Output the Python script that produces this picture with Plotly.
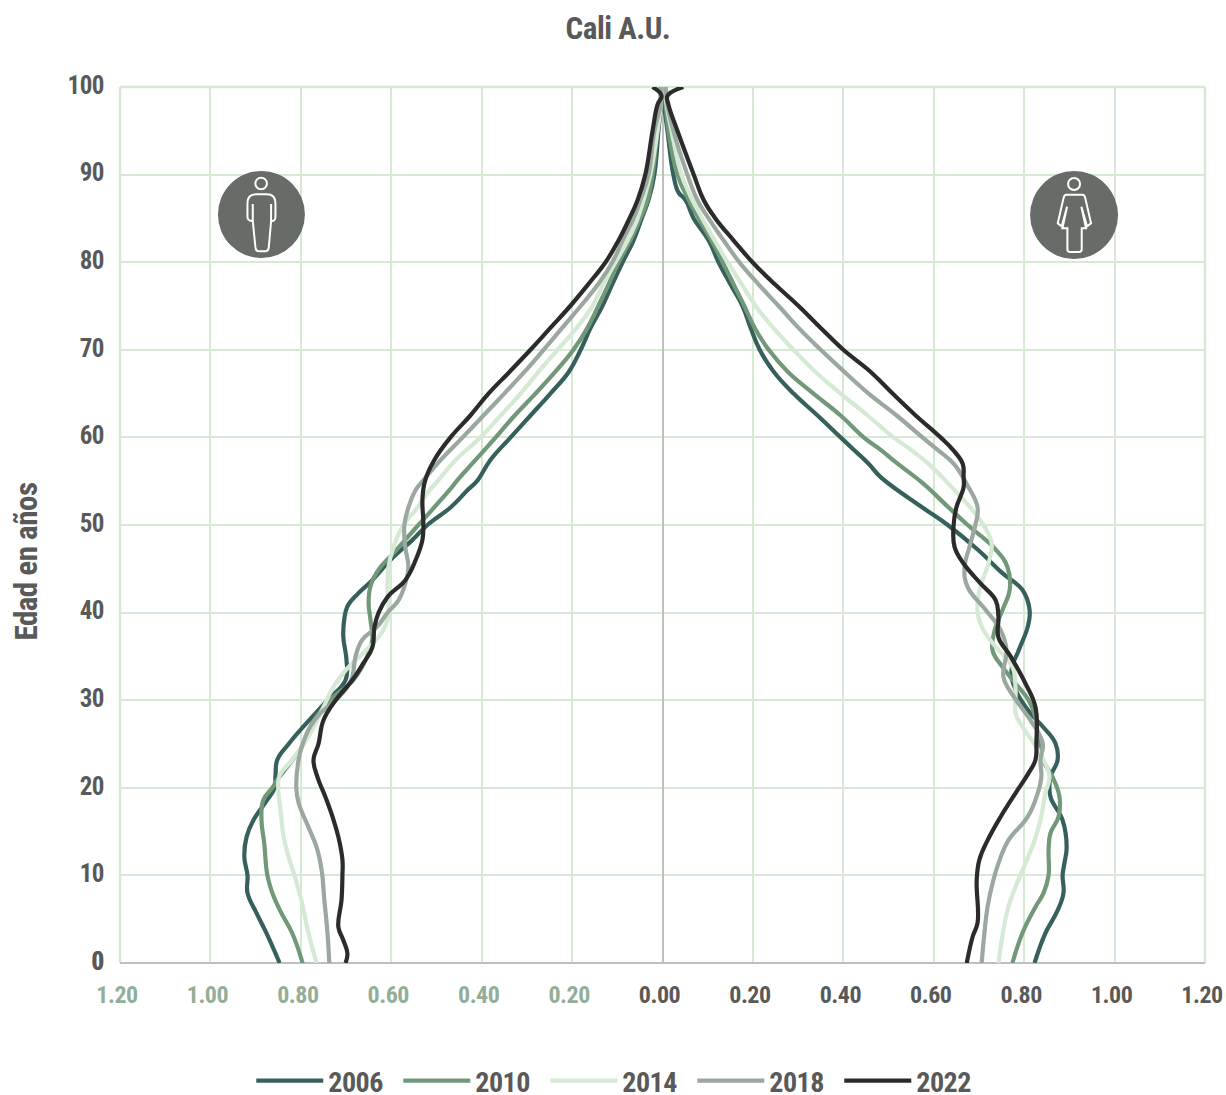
import plotly.graph_objects as go

years = ["2006", "2010", "2014", "2018", "2022"]
colors = ["#36605b", "#72987a", "#d5e9d4", "#9ba89f", "#2b2b2b"]

age_m_2006 = [0,3.4,5.7,8,10,12.1,14.4,16.3,18.5,20,21.5,23.2,25,27,30,32.3,34.6,37.2,39.2,40.7,42.2,43.7,46,48.3,50,52,54,55.1,57.4,60,62.5,65,67.5,70,72.5,75,77.5,80,82.5,85,87.1,90,95,98,100]
val_m_2006 = [0.847,0.876,0.898,0.918,0.918,0.925,0.920,0.905,0.876,0.858,0.856,0.852,0.827,0.794,0.741,0.701,0.699,0.706,0.704,0.697,0.673,0.642,0.602,0.553,0.520,0.469,0.431,0.409,0.381,0.336,0.292,0.248,0.207,0.181,0.159,0.133,0.111,0.088,0.064,0.046,0.031,0.018,0.009,0.004,0.004]

age_m_2010 = [0,3.4,5.9,8,10,13.7,16.3,18.6,20,20.9,23,25,27,30,32.3,35,36.9,39.2,41,43,44.9,46.8,50,54,55.1,57.4,60,62.5,65,67.5,70,72.5,75,77.5,80,82.5,85,87.1,90,95,98,100]
val_m_2010 = [0.796,0.819,0.845,0.863,0.874,0.881,0.887,0.883,0.863,0.852,0.821,0.794,0.779,0.735,0.684,0.653,0.642,0.646,0.650,0.646,0.628,0.595,0.540,0.471,0.454,0.414,0.369,0.327,0.281,0.237,0.197,0.166,0.142,0.119,0.097,0.071,0.049,0.033,0.022,0.011,0.004,0.004]

age_m_2014 = [0,3.4,7.2,10,12.1,14.4,17.5,19.8,21.4,23.2,26.2,29,31.5,33.4,35.4,37.2,39.2,40.7,42.2,45.2,47.5,50,52,54,55.1,57.4,60,62.5,65,67.5,70,72.5,75,77.5,80,82.5,85,87.1,90,95,98,100]
val_m_2014 = [0.765,0.783,0.799,0.814,0.827,0.838,0.845,0.850,0.847,0.819,0.779,0.752,0.728,0.701,0.662,0.628,0.608,0.606,0.608,0.606,0.595,0.573,0.542,0.515,0.496,0.458,0.403,0.358,0.314,0.274,0.232,0.190,0.155,0.131,0.104,0.077,0.055,0.042,0.027,0.011,0.004,0.002]

age_m_2018 = [0,3.4,7.2,10.6,13.2,15.5,18.3,20,23.2,25,27,28.5,30,31.5,32.7,35,36.9,38.4,40,41.4,43.3,45.2,47.5,50,52,54,55.1,57.4,60,62.5,65,67.5,70,72.5,75,77.5,80,82.5,85,87.1,90,95,98,100]
val_m_2018 = [0.737,0.741,0.748,0.754,0.765,0.783,0.805,0.810,0.805,0.796,0.779,0.757,0.723,0.697,0.686,0.679,0.664,0.631,0.608,0.584,0.569,0.562,0.569,0.571,0.562,0.546,0.529,0.491,0.442,0.396,0.350,0.305,0.263,0.222,0.181,0.142,0.111,0.088,0.064,0.049,0.031,0.018,0.004,0.002]

age_m_2022 = [0,1.1,2.6,4.1,7.2,10,11.8,14.4,16.7,19,21.2,23.2,25,27.7,30,32.3,34.2,36,38.4,40,41.8,43.7,46,48.3,50.2,52.9,55.1,57.4,60,62.5,65,67.5,70,72.5,75,77.5,80,82.5,85,87.1,90,95,98,99,100]
val_m_2022 = [0.701,0.697,0.706,0.717,0.710,0.708,0.708,0.717,0.730,0.746,0.763,0.772,0.761,0.750,0.723,0.686,0.662,0.642,0.637,0.628,0.608,0.569,0.546,0.531,0.529,0.531,0.525,0.505,0.469,0.425,0.385,0.338,0.292,0.248,0.204,0.164,0.126,0.097,0.073,0.055,0.038,0.022,0.011,0.002,0.022]

age_f_2006 = [0,3.4,6,8,10,11.4,13.2,16.3,19,21.2,23.2,25.1,27,28.5,31.2,33.4,35.7,38.4,40.3,42.6,44.5,47.2,50,52,55.5,57,58.6,60,62.5,65,67.5,70,72.5,75,77.5,80,82.5,85,87.1,88,90,95,98,100]
val_f_2006 = [0.823,0.847,0.874,0.887,0.885,0.889,0.894,0.885,0.858,0.858,0.874,0.869,0.841,0.814,0.781,0.772,0.788,0.808,0.812,0.796,0.752,0.697,0.631,0.575,0.482,0.456,0.423,0.394,0.343,0.290,0.246,0.215,0.195,0.177,0.150,0.124,0.102,0.069,0.051,0.035,0.024,0.011,0.004,0.004]

age_f_2010 = [0,3.4,6.4,8,10,12.9,14.8,16.7,19,21.2,23.2,25.1,28,30,31.9,33.8,35.7,38,40.3,42.6,45.2,47.2,50,52,54.8,57,58.6,60,62.5,65,67.5,70,72.5,75,77.5,80,82.5,85,87.1,90,95,98,100]
val_f_2010 = [0.774,0.796,0.825,0.843,0.854,0.854,0.858,0.876,0.878,0.863,0.841,0.832,0.825,0.810,0.781,0.752,0.730,0.735,0.752,0.768,0.763,0.737,0.675,0.633,0.575,0.520,0.482,0.445,0.394,0.334,0.277,0.235,0.204,0.181,0.157,0.133,0.108,0.080,0.058,0.033,0.013,0.007,0.004]

age_f_2014 = [0,6,8.7,11.4,13.7,16.3,19.4,21.2,23.2,25.1,27,28.5,31.2,33.8,36.1,38,40,42.6,45.6,47.9,50,52,54.8,57,58.6,60,62.5,65,67.5,70,72.5,75,77.5,80,82.5,85,87.1,90,95,98,100]
val_f_2014 = [0.743,0.763,0.781,0.803,0.821,0.836,0.847,0.856,0.843,0.821,0.796,0.781,0.781,0.774,0.737,0.710,0.697,0.701,0.721,0.728,0.710,0.681,0.631,0.588,0.549,0.511,0.454,0.394,0.338,0.290,0.245,0.206,0.175,0.144,0.115,0.088,0.066,0.042,0.020,0.009,0.004]

age_f_2018 = [0,3.4,6.4,9.5,11.8,14,16.7,19.4,21.2,23.2,25.1,28,30.4,32.7,35.7,38,40.3,42.9,45.2,47.5,50,52,54.3,57,58.6,60,62.5,65,67.5,70,72.5,75,77.5,80,82.5,85,87.1,90,95,98,100]
val_f_2018 = [0.706,0.712,0.719,0.732,0.746,0.765,0.808,0.830,0.838,0.836,0.841,0.810,0.777,0.754,0.761,0.748,0.715,0.675,0.668,0.679,0.692,0.697,0.677,0.644,0.608,0.575,0.518,0.456,0.402,0.350,0.301,0.257,0.212,0.170,0.135,0.102,0.077,0.055,0.024,0.011,0.007]

age_f_2022 = [0,3,4.6,9.5,11.8,14,16.7,19.4,21.7,23.2,25.1,29.2,31.9,35,37.2,39.5,41.4,43.3,45.6,47.5,50,52,54.3,55.5,57,58.6,60,62.5,65,67.5,70,72.5,75,77.5,80,82.5,85,87.1,90,95,98,99,100]
val_f_2022 = [0.673,0.686,0.697,0.695,0.701,0.719,0.748,0.781,0.810,0.825,0.827,0.825,0.803,0.770,0.743,0.743,0.737,0.704,0.666,0.646,0.644,0.650,0.666,0.666,0.664,0.642,0.615,0.560,0.509,0.460,0.400,0.350,0.301,0.248,0.199,0.157,0.117,0.091,0.069,0.033,0.013,0.011,0.046]

male = [(age_m_2006,val_m_2006),(age_m_2010,val_m_2010),(age_m_2014,val_m_2014),(age_m_2018,val_m_2018),(age_m_2022,val_m_2022)]
female = [(age_f_2006,val_f_2006),(age_f_2010,val_f_2010),(age_f_2014,val_f_2014),(age_f_2018,val_f_2018),(age_f_2022,val_f_2022)]

x_ticks = [-1.2,-1.0,-0.8,-0.6,-0.4,-0.2,0,0.2,0.4,0.6,0.8,1.0,1.2]
x_text = ["1.20","1.00","0.80","0.60","0.40","0.20","0.00","0.20","0.40","0.60","0.80","1.00","1.20"]
y_ticks = list(range(0,101,10))

FONT = "Roboto Condensed, Liberation Sans Narrow, sans-serif"
GRAY = "#595959"
W, H = 1226, 1095
L, R, T, B = 119.5, 1205, 87, 963
LW = 4.2
SMOOTH = 1.2
GRID = "#d6e9d4"
GW = 2.4

fig = go.Figure()
for i, yr in enumerate(years):
    a, v = female[i]
    fig.add_trace(go.Scatter(x=v, y=a, mode="lines", name=yr, legendgroup=yr, showlegend=False,
        line=dict(color=colors[i], width=LW, shape="spline", smoothing=SMOOTH), hoverinfo="skip", cliponaxis=False))
for i, yr in enumerate(years):
    a, v = male[i]
    fig.add_trace(go.Scatter(x=[-t for t in v], y=a, mode="lines", name=yr, legendgroup=yr, showlegend=True,
        line=dict(color=colors[i], width=LW, shape="spline", smoothing=SMOOTH), hoverinfo="skip", cliponaxis=False))

def px(x): return (x-L)/(R-L)
def py(y): return (B-y)/(B-T)

def zpath(ox, oy, segs):
    out = []
    for s in segs:
        if isinstance(s, str):
            out.append(s); continue
        out.append(f"{px(ox+s[0]/3):.5f},{py(oy+s[1]/3):.5f}")
    return " ".join(out)

ICON = "#686c68"
STROKE = 2
shapes = [
    dict(type="line", xref="paper", yref="paper", x0=0, x1=0, y0=0, y1=1, line=dict(color=GRID, width=GW), layer="below"),
    dict(type="line", xref="paper", yref="paper", x0=1, x1=1, y0=0, y1=1, line=dict(color=GRID, width=GW), layer="below"),
    dict(type="line", xref="paper", yref="paper", x0=0, x1=1, y0=1, y1=1, line=dict(color=GRID, width=GW), layer="below"),
]
def circ(cx, cy, r, **kw):
    shapes.append(dict(type="circle", xref="paper", yref="paper", x0=px(cx-r), x1=px(cx+r), y0=py(cy+r), y1=py(cy-r), layer="above", **kw))

circ(261, 214.5, 43.5, fillcolor=ICON, line=dict(width=0))
circ(1074, 215, 44, fillcolor=ICON, line=dict(width=0))
circ(260.7, 183.5, 5.8, fillcolor="rgba(0,0,0,0)", line=dict(color="white", width=STROKE))
circ(1074, 184, 6, fillcolor="rgba(0,0,0,0)", line=dict(color="white", width=STROKE))

man = ["M",(141,130),"Q",(141,103),(167,103),"L",(199,103),"Q",(225,103),(225,130),"L",(225,170),"Q",(225,184),(212,183),
       "L",(212,132),"M",(212,183),"L",(205,262),"Q",(204,274),(193,274),"L",(177,274),"Q",(166,274),(165,262),"L",(157,183),
       "L",(157,132),"M",(157,183),"Q",(141,184),(141,170),"L",(141,130)]
woman = ["M",(168,104),"L",(218,104),"Q",(224,106),(226,116),"L",(243,190),"L",(231,199),"L",(214,140),"L",(228,205),"L",(215,205),
         "L",(215,268),"Q",(215,276),(207,276),"L",(180,276),"Q",(172,276),(172,268),"L",(172,205),"L",(157,205),"L",(171,140),
         "L",(155,199),"L",(143,190),"L",(160,116),"Q",(162,106),(168,104),"Z"]
shapes.append(dict(type="path", xref="paper", yref="paper", path=zpath(200,160,man), line=dict(color="white", width=STROKE), layer="above"))
shapes.append(dict(type="path", xref="paper", yref="paper", path=zpath(1010,160,woman), line=dict(color="white", width=STROKE), layer="above"))

left_col = "#93ae98"
ticktext = [f'<span style="color:{left_col}">{t}</span>' if v < 0 else t for t, v in zip(x_text, x_ticks)]

def f(size):
    return dict(family=FONT, size=size, color=GRAY, weight="bold")

fig.update_layout(
    width=W, height=H, autosize=False,
    margin=dict(l=L, r=W-R, t=T, b=H-B, autoexpand=False, pad=0),
    paper_bgcolor="white", plot_bgcolor="white",
    font=dict(family=FONT, color=GRAY),
    title=dict(text="Cali A.U.", x=618/W, xanchor="center", y=1-28/H, yanchor="middle", font=f(31)),
    xaxis=dict(range=[-1.2,1.2], tickmode="array", tickvals=x_ticks, ticktext=ticktext, showgrid=True, gridcolor=GRID, gridwidth=GW,
        zeroline=True, zerolinecolor="#bfbfbf", zerolinewidth=2.4, showline=False, ticks="",
        ticklabelstandoff=15, ticklabelshift=-3, tickfont=f(24)),
    yaxis=dict(range=[0,100], tickmode="array", tickvals=y_ticks, showgrid=True, gridcolor=GRID, gridwidth=GW,
        zeroline=True, zerolinecolor="#bfbfbf", zerolinewidth=2.4, showline=False, ticks="",
        ticklabelstandoff=15, ticklabelshift=-2, tickfont=f(25)),
    legend=dict(orientation="h", x=px(618.5), xanchor="center", y=py(1081), yanchor="middle",
        itemwidth=67, entrywidth=65, entrywidthmode="pixels", font=f(28), itemclick=False, itemdoubleclick=False, tracegroupgap=0),
    shapes=shapes,
    annotations=[
        dict(text="Edad en años", xref="paper", yref="paper", x=px(25), y=py(562), textangle=-90, showarrow=False,
             xanchor="center", yanchor="middle", font=f(31)),
        dict(text="0", xref="paper", yref="paper", x=px(105), y=py(961), showarrow=False,
             xanchor="right", yanchor="middle", font=f(25)),
    ],
)
fig.write_html("out.html", config=dict(displayModeBar=False),
    post_script="document.body.style.margin='0';var s=document.createElement('style');s.textContent='.main-svg text{letter-spacing:-0.5px}';document.head.appendChild(s);")
